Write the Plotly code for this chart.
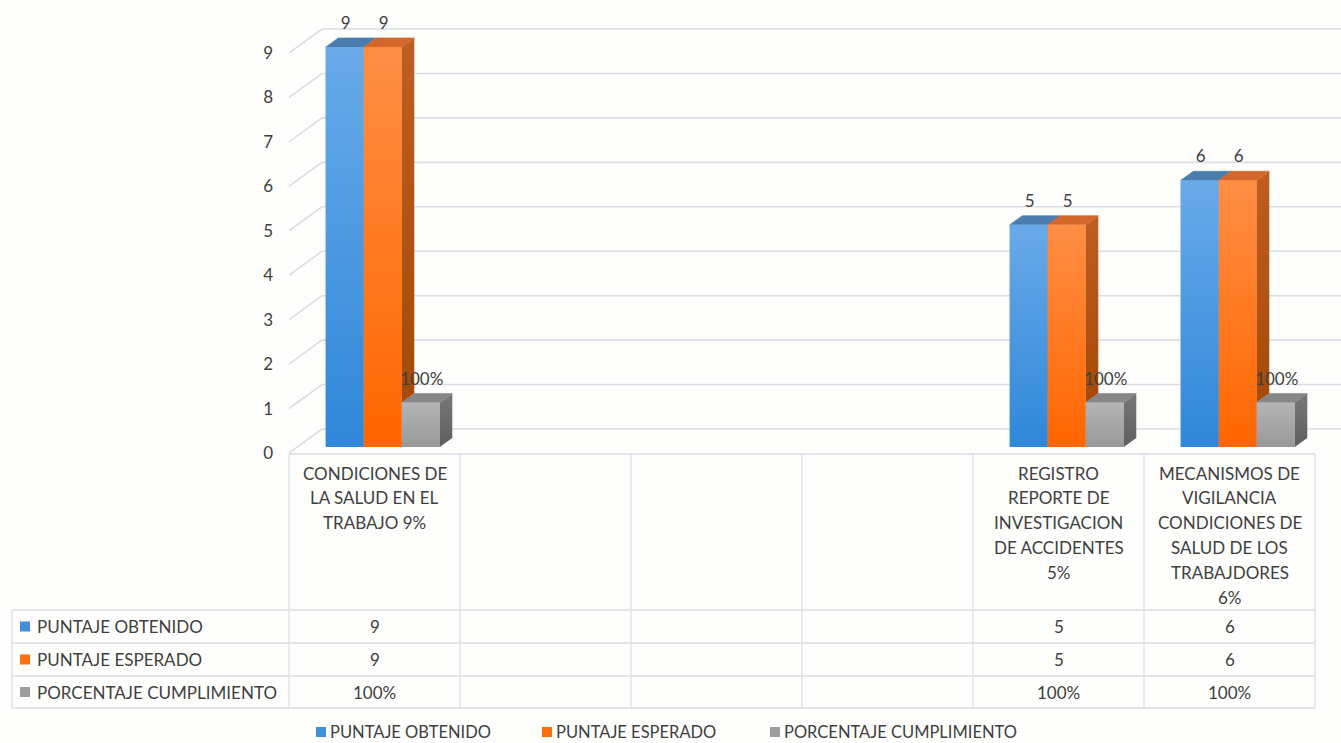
import plotly.graph_objects as go

# ---------------- data ----------------
categories = [
    "CONDICIONES DE<br>LA SALUD EN EL<br>TRABAJO 9%",
    "",
    "",
    "",
    "REGISTRO<br>REPORTE DE<br>INVESTIGACION<br>DE ACCIDENTES<br>5%",
    "MECANISMOS DE<br>VIGILANCIA<br>CONDICIONES DE<br>SALUD DE LOS<br>TRABAJDORES<br>6%",
]
series_names = ["PUNTAJE OBTENIDO", "PUNTAJE ESPERADO", "PORCENTAJE CUMPLIMIENTO"]
puntaje_obtenido = [9, None, None, None, 5, 6]
puntaje_esperado = [9, None, None, None, 5, 6]
porcentaje_cumplimiento = [1.0, None, None, None, 1.0, 1.0]   # 1.0 = 100%
y_ticks = [0, 1, 2, 3, 4, 5, 6, 7, 8, 9]

# ---------------- styling ----------------
FONT = "Lato"
TXT = "#404040"
GRID = "#D9DEE5"
BG = "#FEFEFD"
front_mid = ["#4A99E2", "#FF7A1F", "#A5A5A5"]
front_bottom = ["#2F87D9", "#FF6600", "#989898"]
front_top = ["#69AAE9", "#FF8E45", "#B5B5B5"]
top_colors = ["#4A7DAD", "#D3672C", "#878787"]
side_bottom = ["#285A8C", "#A54A08", "#5E5E5E"]
side_top = ["#3A6DA0", "#BE5E22", "#787878"]
key_colors = ["#3F8FDD", "#FF6F10", "#9E9E9E"]

FIG_W, FIG_H = 1341, 743
PLOT_L = 289          # px where the plot area begins
CAT_PX = 171.0        # px per category
UNIT_PX = 44.44       # px per y unit
ZERO_PX = 453         # px of y=0 on the front plane

def Y(py):
    return (ZERO_PX - py) / UNIT_PX

def PXP(px):
    return (px - PLOT_L) / (FIG_W - PLOT_L)

def PYP(py):
    return 1 - py / FIG_H

def cat_px(x):
    return PLOT_L + (x + 0.5) * CAT_PX

DEPTH_X = 33 / CAT_PX
DEPTH_Y = 24 / UNIT_PX
F_FRONT, F_BACK = 0.25, 0.63
BAR_W = 38 / CAT_PX
BF = F_FRONT * DEPTH_Y
BB = F_BACK * DEPTH_Y
DDX = (F_BACK - F_FRONT) * DEPTH_X

series = [puntaje_obtenido, puntaje_esperado, porcentaje_cumplimiento]
labels = [
    [None if v is None else f"{v:g}" for v in puntaje_obtenido],
    [None if v is None else f"{v:g}" for v in puntaje_esperado],
    [None if v is None else f"{v:.0%}" for v in porcentaje_cumplimiento],
]
xs = list(range(len(categories)))

fig = go.Figure()

# bars (front faces) through the bar machinery
for j, vals in enumerate(series):
    fig.add_trace(go.Bar(
        x=xs, y=vals, base=BF,
        offset=(j - 1.5) * BAR_W + F_FRONT * DEPTH_X, width=BAR_W,
        marker=dict(color=front_mid[j], line=dict(width=0)),
        name=series_names[j], showlegend=False, hoverinfo="skip",
    ))

def poly(px_, py_, color, grad=None):
    d = dict(x=px_, y=py_, mode="lines", fill="toself", fillcolor=color,
             line=dict(width=0.6, color=color), showlegend=False, hoverinfo="skip")
    if grad:
        d["fillgradient"] = dict(type="vertical", colorscale=[[0, grad[0]], [1, grad[1]]])
        d["line"] = dict(width=0)
    fig.add_trace(go.Scatter(**d))

# 3D faces, painted left to right: side, top, shaded front
for i in xs:
    for j, vals in enumerate(series):
        v = vals[i]
        if v is None:
            continue
        xl = i + (j - 1.5) * BAR_W + F_FRONT * DEPTH_X
        xr = xl + BAR_W
        lo = 0
        if j < len(series) - 1 and series[j + 1][i] is not None:
            lo = series[j + 1][i]
        if v > lo:
            poly([xr, xr + DDX, xr + DDX, xr, xr],
                 [lo + BF, lo + BB, v + BB, v + BF, lo + BF],
                 side_top[j], (side_bottom[j], side_top[j]))
        poly([xl, xr, xr + DDX, xl + DDX, xl],
             [v + BF, v + BF, v + BB, v + BB, v + BF], top_colors[j])
        poly([xl, xr, xr, xl, xl], [BF, BF, v + BF, v + BF, BF],
             front_mid[j], (front_bottom[j], front_top[j]))

# value labels above bars
for j, vals in enumerate(series):
    lx, ly, lt = [], [], []
    for i, v in enumerate(vals):
        if v is None:
            continue
        xl = i + (j - 1.5) * BAR_W + F_FRONT * DEPTH_X
        lx.append(xl + BAR_W / 2 + 1 / CAT_PX)
        ly.append(v + BB + 13 / UNIT_PX)
        lt.append(labels[j][i])
    fig.add_trace(go.Scatter(x=lx, y=ly, text=lt, mode="text", textposition="middle center",
                             textfont=dict(family=FONT, size=17, color=TXT),
                             showlegend=False, hoverinfo="skip", cliponaxis=False))

shapes = []
# 3D gridlines (side wall + back wall)
x_left = -0.5
x_far = 10
for t in y_ticks:
    shapes.append(dict(type="path", xref="x", yref="y", layer="below",
                       path=f"M{x_left},{t} L{x_left + DEPTH_X},{t + DEPTH_Y} L{x_far},{t + DEPTH_Y}",
                       line=dict(color=GRID, width=1.6)))

# data table grid
TABLE_TOP, ROW_Y = 454, [610, 643, 676, 708]
TABLE_LEFT = 12
ncat = len(categories)
right_px = cat_px(ncat - 0.5)
def hline(py, x0px, x1px):
    shapes.append(dict(type="line", xref="paper", yref="paper", x0=PXP(x0px), x1=PXP(x1px),
                       y0=PYP(py), y1=PYP(py), line=dict(color=GRID, width=1.3), layer="below"))
def vline(px, y0px, y1px):
    shapes.append(dict(type="line", xref="paper", yref="paper", x0=PXP(px), x1=PXP(px),
                       y0=PYP(y0px), y1=PYP(y1px), line=dict(color=GRID, width=1.3), layer="below"))
hline(TABLE_TOP, cat_px(-0.5), right_px)
for py in ROW_Y:
    hline(py, TABLE_LEFT, right_px)
vline(TABLE_LEFT, ROW_Y[0], ROW_Y[-1])
for k in range(ncat + 1):
    vline(cat_px(k - 0.5), TABLE_TOP, ROW_Y[-1])

annotations = []
TFS = 17
# category labels in table header
LINE_H = 24.8
for i, cat in enumerate(categories):
    if not cat:
        continue
    for k, line in enumerate(cat.split("<br>")):
        annotations.append(dict(xref="x", yref="paper", x=i, y=PYP(473 + k * LINE_H),
                                text=line, showarrow=False, xanchor="center", yanchor="middle",
                                font=dict(family=FONT, size=TFS, color=TXT)))
# table rows
for r in range(3):
    cy = (ROW_Y[r] + ROW_Y[r + 1]) / 2
    shapes.append(dict(type="rect", xref="paper", yref="paper", x0=PXP(20), x1=PXP(30),
                       y0=PYP(cy + 5), y1=PYP(cy - 5), fillcolor=key_colors[r], line=dict(width=0)))
    annotations.append(dict(xref="paper", yref="paper", x=PXP(35), y=PYP(cy), text=series_names[r],
                            showarrow=False, xanchor="left", yanchor="middle",
                            font=dict(family=FONT, size=TFS, color=TXT)))
    for i, t in enumerate(labels[r]):
        if t is None:
            continue
        annotations.append(dict(xref="x", yref="paper", x=i, y=PYP(cy), text=t, showarrow=False,
                                xanchor="center", yanchor="middle",
                                font=dict(family=FONT, size=TFS, color=TXT)))

# bottom legend
LEG_Y = 732
leg_text_x = [331, 557, 785]
for r in range(3):
    x0 = leg_text_x[r] - 15
    shapes.append(dict(type="rect", xref="paper", yref="paper", x0=PXP(x0), x1=PXP(x0 + 10),
                       y0=PYP(LEG_Y + 5), y1=PYP(LEG_Y - 5), fillcolor=key_colors[r], line=dict(width=0)))
    annotations.append(dict(xref="paper", yref="paper", x=PXP(leg_text_x[r] - 2), y=0,
                            text=series_names[r], showarrow=False, xanchor="left", yanchor="bottom",
                            borderpad=0, font=dict(family=FONT, size=16.5, color=TXT)))

fig.update_layout(
    width=FIG_W, height=FIG_H,
    margin=dict(l=PLOT_L, r=0, t=0, b=0),
    paper_bgcolor=BG, plot_bgcolor=BG,
    barmode="overlay", showlegend=False,
    shapes=shapes, annotations=annotations,
    xaxis=dict(range=[-0.5, -0.5 + (FIG_W - PLOT_L) / CAT_PX], showgrid=False, zeroline=False,
               showticklabels=False, showline=False, fixedrange=True),
    yaxis=dict(range=[Y(FIG_H), Y(0)], tickvals=y_ticks, ticktext=[str(t) for t in y_ticks],
               showgrid=False, zeroline=False, showline=False, ticks="",
               ticklabelstandoff=15, tickfont=dict(family=FONT, size=17, color=TXT), fixedrange=True),
)

fig.write_html("out.html", config={"displayModeBar": False},
               post_script="document.body.style.margin='0';document.body.style.overflow='hidden';")
